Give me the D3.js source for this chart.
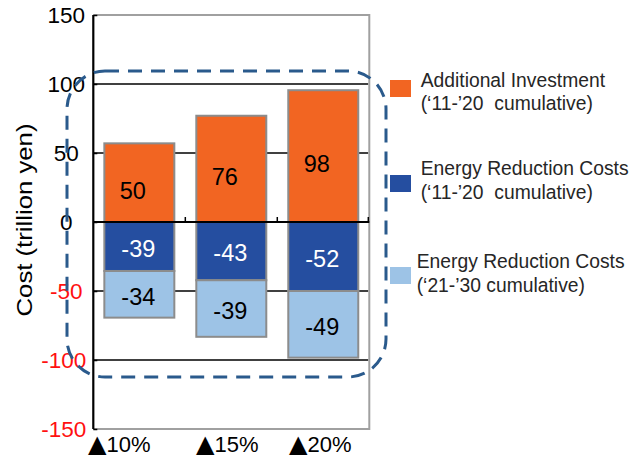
<!DOCTYPE html>
<html>
<head>
<meta charset="utf-8">
<script src="https://cdn.jsdelivr.net/npm/d3@7"></script>
<style>
  html, body { margin: 0; padding: 0; background: #fff; }
  svg { display: block; font-family: "Liberation Sans", Arial, sans-serif; }
  .pre { white-space: pre; }
</style>
</head>
<body>
<svg id="chart" width="631" height="457"></svg>
<script>
// ---- data ----
const categories = ["▲10%", "▲15%", "▲20%"];
const investment = [57, 77, 95.5];          // drawn bar heights
const investmentLabels = ["50", "76", "98"];
const reduction1120 = [35.5, 42.2, 50];     // drawn (negative) heights
const reduction1120Labels = ["-39", "-43", "-52"];
const reduction2130 = [33.8, 41, 48.3];
const reduction2130Labels = ["-34", "-39", "-49"];
const yTicks = [150, 100, 50, 0, -50, -100, -150];
const legendItems = [
  ["Additional Investment", "(‘11-’20  cumulative)"],
  ["Energy Reduction Costs", "(‘11-’20  cumulative)"],
  ["Energy Reduction Costs", "(‘21-’30 cumulative)"]
];

// ---- layout ----
const colors = ["#F26522", "#254EA0", "#9DC3E6"];
const pL = 93.3, pR = 369.3, pT = 15, pB = 429;
const svg = d3.select("#chart");

const y = d3.scaleLinear().domain([-150, 150]).range([pB, pT]);
const x = d3.scaleBand().domain(categories).range([pL, pR])
  .paddingInner(0.239).paddingOuter(0.12);

// gridlines
svg.append("g").selectAll("line").data([100, 50, -50, -100]).join("line")
  .attr("x1", pL).attr("x2", pR - 1)
  .attr("y1", d => y(d)).attr("y2", d => y(d))
  .attr("stroke", "#000").attr("stroke-width", 1.5);

// frame (top, right, bottom) gray
svg.append("path")
  .attr("d", `M${pL},${pT}H${pR}V${pB}H${pL}`)
  .attr("fill", "none").attr("stroke", "#a0a0a0").attr("stroke-width", 2);

// bars
const segs = [];
categories.forEach((c, i) => {
  segs.push({c, y0: 0, y1: investment[i], col: colors[0], label: investmentLabels[i], tc: "#000", dx: -6.5, dy: 8});
  segs.push({c, y0: 0, y1: -reduction1120[i], col: colors[1], label: reduction1120Labels[i], tc: "#fff", dx: -1, dy: 2});
  segs.push({c, y0: -reduction1120[i], y1: -reduction1120[i] - reduction2130[i], col: colors[2], label: reduction2130Labels[i], tc: "#000", dx: -1, dy: 2});
});
svg.append("g").selectAll("rect").data(segs).join("rect")
  .attr("x", d => x(d.c))
  .attr("width", x.bandwidth())
  .attr("y", d => Math.min(y(d.y0), y(d.y1)))
  .attr("height", d => Math.abs(y(d.y0) - y(d.y1)))
  .attr("fill", d => d.col)
  .attr("stroke", "#8c8c8c").attr("stroke-width", 2);

svg.append("g").selectAll("text").data(segs).join("text")
  .attr("x", d => x(d.c) + x.bandwidth() / 2 + d.dx)
  .attr("y", d => (y(d.y0) + y(d.y1)) / 2 + d.dy + 8.3)
  .attr("text-anchor", "middle")
  .attr("font-size", 23.5)
  .attr("fill", d => d.tc)
  .text(d => d.label);

// zero line with ticks upward
svg.append("line").attr("x1", pL).attr("x2", pR)
  .attr("y1", y(0)).attr("y2", y(0)).attr("stroke", "#000").attr("stroke-width", 2);
svg.append("g").selectAll("line").data(categories.slice(1).map(c => x(c) - x.step() * x.paddingInner() / 2).concat([pR - 1]))
  .join("line")
  .attr("x1", d => d).attr("x2", d => d)
  .attr("y1", y(0)).attr("y2", y(0) - 5)
  .attr("stroke", "#000").attr("stroke-width", 1.5);

// y axis
const yAxis = svg.append("g").attr("transform", `translate(${pL},0)`)
  .call(d3.axisRight(y).tickValues(yTicks).tickSize(4).tickFormat(""));
yAxis.select(".domain").attr("stroke", "#000").attr("stroke-width", 2.2).attr("d", `M0,${pT}V${pB}`);
yAxis.selectAll(".tick line").attr("stroke", "#000").attr("stroke-width", 1.5);

const yl = svg.append("g").selectAll("text").data(yTicks).join("text")
  .attr("x", pL - 27)
  .attr("y", d => y(d) + 7.5)
  .attr("text-anchor", "middle")
  .attr("font-size", 22.5)
  .attr("fill", d => d < 0 ? "#ff1010" : "#000")
  .text(d => d);
yl.each(function() {
  const w = this.getComputedTextLength();
  const cx = pL - 27;
  if (cx + w / 2 > pL - 7) d3.select(this).attr("x", pL - 7 - w / 2);
});

// y title
svg.append("text")
  .attr("transform", `translate(32,220) rotate(-90)`)
  .attr("text-anchor", "middle")
  .attr("font-size", 22)
  .attr("textLength", 193).attr("lengthAdjust", "spacingAndGlyphs")
  .attr("fill", "#000")
  .text("Cost (trillion yen)");

// x labels (triangle drawn larger, like the reference)
const xShift = [-20, -4, -3];
const xl = svg.append("g").selectAll("text").data(categories).join("text")
  .attr("x", (d, i) => x(d) + x.bandwidth() / 2 + xShift[i])
  .attr("y", 452)
  .attr("text-anchor", "middle")
  .attr("font-size", 22)
  .attr("fill", "#000");
xl.append("tspan")
  .attr("font-family", "DejaVu Sans")
  .attr("font-size", 24)
  .text(d => d.slice(0, 1));
xl.append("tspan")
  .text(d => d.slice(1));

// dashed rounded rectangle
svg.append("rect")
  .attr("x", 67).attr("y", 71).attr("width", 319).attr("height", 306)
  .attr("rx", 38).attr("ry", 38)
  .attr("fill", "none").attr("stroke", "#2a5a8c").attr("stroke-width", 3)
  .attr("stroke-dasharray", "14,9");

// legend
const legY = [80, 175, 267];
const legTextX = [420.7, 420.7, 416.7];
const legBase = [86.7, 175, 268];
const lg = svg.append("g").selectAll("g").data(legendItems).join("g");
lg.append("rect")
  .attr("x", 390).attr("y", (d, i) => legY[i])
  .attr("width", 21).attr("height", 17)
  .attr("fill", (d, i) => colors[i]);
lg.each(function(d, i) {
  const g = d3.select(this);
  d.forEach((line, j) => {
    g.append("text")
      .attr("class", "pre")
      .attr("x", legTextX[i]).attr("y", legBase[i] + j * 23.5)
      .attr("font-size", 19.3)
      .attr("fill", "#262626")
      .text(line);
  });
});
</script>
</body>
</html>
